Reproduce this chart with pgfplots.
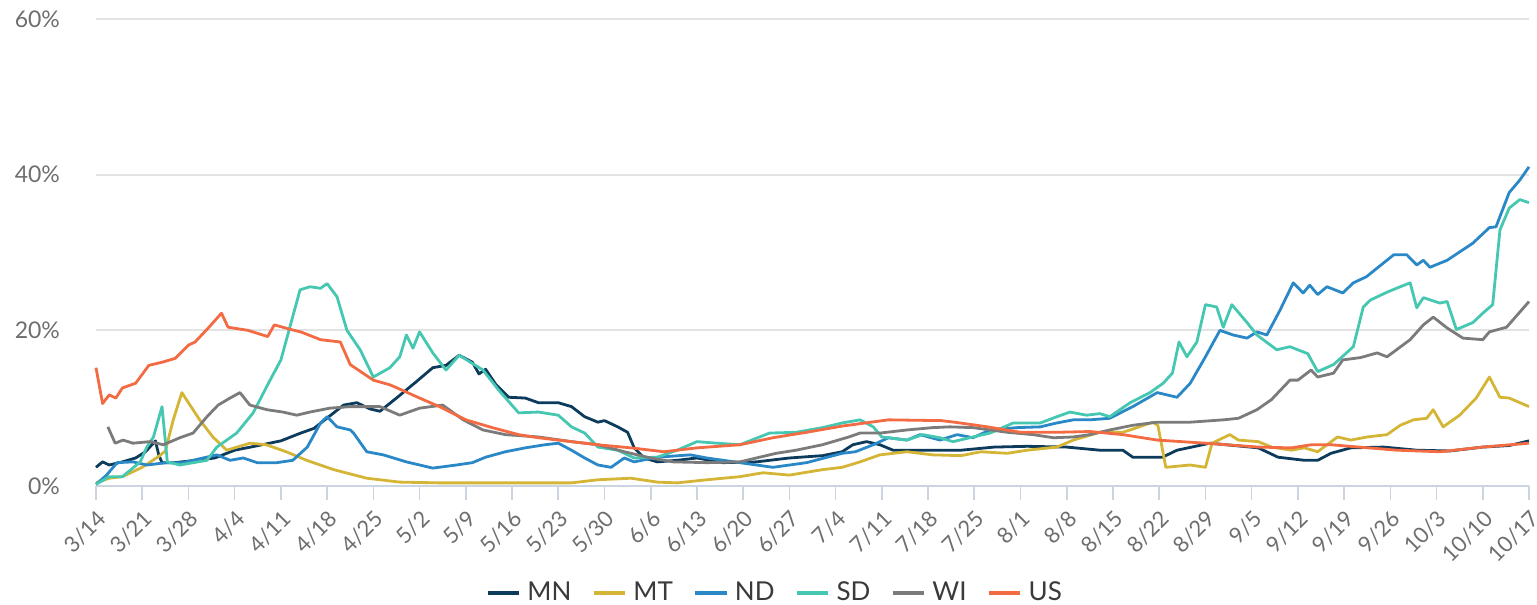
\documentclass[border=0pt]{standalone}
\usepackage{fontspec}
\setmainfont{Lato}
\usepackage{pgfplots}
\pgfplotsset{compat=1.18}
\usetikzlibrary{calc}
\definecolor{cMN}{HTML}{0D3B5C}
\definecolor{cMT}{HTML}{D5B536}
\definecolor{cND}{HTML}{2A88C7}
\definecolor{cSD}{HTML}{45C7B2}
\definecolor{cWI}{HTML}{7B7B7B}
\definecolor{cUS}{HTML}{F26B43}
\definecolor{gridgray}{HTML}{E3E3E3}
\definecolor{axisblue}{HTML}{CBD5E1}
\definecolor{labelgray}{HTML}{6E6E6E}
\definecolor{legendtext}{HTML}{3A3A3A}
\begin{document}
\fontsize{11.5bp}{13.8bp}\selectfont
\begin{tikzpicture}
\begin{axis}[
  scale only axis, width=716.5bp, height=233.5bp,
  xmin=0, xmax=217, ymin=0, ymax=60,
  clip=false, no markers,
  axis x line*=bottom, axis y line*=left,
  y axis line style={draw=none},
  x axis line style={color=axisblue, line width=1bp},
  ytick={0,20,40,60}, yticklabels={0\%,20\%,40\%,60\%},
  ytick style={draw=none},
  yticklabel style={text=labelgray, font=\fontsize{11.5bp}{13.8bp}\selectfont, xshift=-7bp},
  xtick={0,7,...,217},
  xticklabels={3/14,3/21,3/28,4/4,4/11,4/18,4/25,5/2,5/9,5/16,5/23,5/30,6/6,6/13,6/20,6/27,7/4,7/11,7/18,7/25,8/1,8/8,8/15,8/22,8/29,9/5,9/12,9/19,9/26,10/3,10/10,10/17},
  xtick style={color=axisblue, line width=0.8bp},
  major tick length=7bp, tick align=outside,
  xticklabel shift={3bp},
  xticklabel style={text=labelgray, font=\fontsize{11bp}{13bp}\selectfont, rotate=45, anchor=north east, inner sep=1bp},
  ymajorgrids, grid style={color=gridgray, line width=1bp},
  every axis plot/.append style={line width=1.4bp, line join=round},
  legend columns=-1,
  legend style={at={(0.475,-0.229)}, anchor=center, draw=none, fill=none,
    font=\fontsize{13bp}{15bp}\selectfont, text=legendtext,
    nodes={inner xsep=3bp},
    /tikz/every even column/.append style={column sep=7bp}},
  legend image code/.code={\draw[line width=2.4bp] (0bp,0bp) -- (15.6bp,0bp);},
]
\coordinate (pa) at (rel axis cs:0,0);
\coordinate (pb) at (rel axis cs:1,1);

% MN
\addplot[cMN] coordinates {(0,2.4)(1,3.1)(2,2.7)(4,3.1)(6,3.6)(7.5,4.4)(9,5.8)(9.5,4.0)(10,3.0)(12,3.0)(15,3.3)(18,3.6)(21,4.6)(24,5.1)(28,5.8)(31,6.8)(33,7.4)(36,9.4)(37.5,10.4)(39.5,10.7)(41.5,9.9)(43,9.6)(45.5,11.3)(48.5,13.4)(51,15.2)(53,15.5)(55,16.8)(57,15.9)(58,14.4)(59,15.0)(60.5,13.1)(62.5,11.4)(65,11.3)(67,10.7)(70,10.7)(72,10.2)(74,8.9)(76,8.2)(77,8.4)(79,7.6)(80.5,6.9)(81.5,4.9)(83,3.6)(85,3.1)(88,3.3)(91,3.6)(95,3.0)(100,3.1)(105,3.6)(110,3.9)(113,4.4)(114.6,5.3)(116.7,5.7)(118.7,5.3)(120.7,4.6)(126.7,4.6)(131,4.6)(136,5.0)(141,5.1)(147,5.0)(152,4.6)(155.5,4.6)(157,3.7)(161.5,3.7)(163.7,4.6)(168.7,5.5)(176,4.9)(179,3.7)(183,3.3)(185,3.3)(187,4.2)(190,4.9)(195,5.0)(200,4.6)(205,4.5)(210,5.0)(214,5.2)(217,5.8)};
% MT
\addplot[cMT] coordinates {(0,0.4)(2,1.0)(4,1.2)(7,2.4)(9.5,3.8)(10.5,4.5)(11.7,8.5)(13,12.0)(15.7,8.5)(17.7,6.3)(19.8,4.6)(23.3,5.5)(25.8,5.3)(28.8,4.4)(31.9,3.3)(36,2.1)(41,1.0)(46,0.5)(52,0.4)(62,0.4)(72,0.4)(76,0.8)(81,1.0)(85,0.5)(88,0.4)(92.5,0.8)(97.5,1.2)(101,1.7)(105,1.4)(110,2.1)(113,2.4)(115.7,3.1)(118.7,4.0)(122.8,4.4)(126.7,4.0)(131,3.9)(134,4.4)(138,4.2)(141,4.6)(145.5,5.0)(148,5.9)(152,6.9)(155.5,6.9)(158,7.6)(160,8.2)(160.8,7.8)(162,2.4)(165.7,2.7)(168,2.4)(169,5.5)(171.7,6.6)(173,5.9)(176,5.7)(178,5.0)(181,4.6)(183,4.9)(185,4.4)(188,6.3)(190,5.9)(192.5,6.3)(195.5,6.6)(197.5,7.8)(199.5,8.5)(201.5,8.7)(202.5,9.8)(204,7.6)(206.5,9.1)(209,11.3)(211,14.0)(212.6,11.4)(214,11.3)(217,10.2)};
% ND
\addplot[cND] coordinates {(0,0.2)(1.6,1.4)(3.2,3.0)(5.6,3.1)(7.7,2.7)(10.7,3.0)(13.2,3.0)(16.2,3.6)(18.3,4.0)(20.3,3.3)(22.3,3.6)(24.4,3.0)(27.4,3.0)(29.8,3.3)(32,5.0)(34,8.1)(35,8.9)(36.5,7.6)(38.5,7.2)(39,6.8)(41,4.4)(43.5,4.0)(47,3.1)(51,2.3)(54.6,2.7)(57,3.0)(59,3.7)(62,4.4)(65,4.9)(68,5.3)(70,5.5)(72,4.6)(74,3.6)(76,2.7)(78,2.4)(80,3.6)(81.5,3.1)(85,3.7)(90,4.0)(92.5,3.6)(97.5,3.0)(102.5,2.4)(107.6,3.0)(113,4.2)(115,4.4)(117.7,5.3)(120,6.2)(122.8,5.9)(124.8,6.6)(127.8,5.9)(130.4,6.6)(132.8,6.2)(135.4,7.2)(139.5,7.5)(143,7.6)(145.5,8.1)(148,8.5)(150.5,8.5)(153.5,8.7)(157,10.2)(160.7,12.0)(163.7,11.4)(165.7,13.2)(168,16.6)(170.2,20.0)(172.2,19.4)(174.3,19.0)(175.8,19.8)(177.3,19.4)(179.3,22.6)(181.3,26.1)(182.8,24.8)(183.8,25.8)(185,24.6)(186.4,25.6)(188.8,24.8)(190.4,26.1)(192.4,26.9)(196.5,29.7)(198.5,29.7)(200,28.4)(201,29.0)(202,28.1)(204.6,29.0)(208.5,31.2)(211,33.2)(212,33.3)(214,37.7)(215.6,39.3)(217,41.0)};
% SD
\addplot[cSD] coordinates {(0,0.2)(2,1.2)(4,1.2)(6.7,3.1)(7.7,5.0)(8.7,6.3)(10,10.2)(10.8,3.1)(12.7,2.7)(16.8,3.3)(18.3,5.0)(21.3,6.8)(23.8,9.4)(26.3,13.5)(28,16.2)(30.9,25.2)(32.4,25.6)(34,25.4)(35,26.0)(36.5,24.3)(38,20.0)(40,17.5)(42,14.0)(44.5,15.2)(46,16.6)(47,19.4)(48,17.7)(49,19.8)(51,17.1)(53,14.9)(55,16.8)(58.6,14.9)(61,12.3)(64,9.4)(67,9.5)(70,9.1)(72,7.6)(74,6.8)(76,5.0)(79,4.6)(81.5,3.6)(85,3.7)(88,4.6)(91,5.7)(94,5.5)(97.5,5.3)(102,6.8)(106,6.9)(110,7.5)(113,8.1)(115.7,8.5)(117.7,7.6)(119,6.3)(122.8,5.9)(125.2,6.6)(127.8,6.2)(129.8,5.7)(132.8,6.3)(135.4,6.8)(138.9,8.1)(143,8.1)(145.5,8.9)(147.5,9.5)(150,9.1)(152,9.3)(153.5,8.9)(156.6,10.7)(159.6,12.0)(161.6,13.2)(163,14.5)(164,18.5)(165.2,16.6)(166.7,18.5)(168,23.3)(169.7,23.0)(170.7,20.4)(172,23.3)(174.3,21.0)(175.8,19.4)(178.8,17.5)(180.8,17.9)(183.5,17.0)(185,14.7)(187.4,15.6)(190.4,17.9)(191.9,23.0)(193,23.9)(195.5,24.9)(197.5,25.6)(199,26.1)(200,22.9)(201,24.2)(203.5,23.5)(204.6,23.7)(206,20.1)(208.5,21.0)(210,22.2)(211.5,23.3)(212.6,32.9)(214,35.7)(215.6,36.8)(217,36.4)};
% WI
\addplot[cWI] coordinates {(1.8,7.6)(2.9,5.5)(4.1,5.9)(5.6,5.5)(8.2,5.7)(10.2,5.3)(12.7,6.2)(14.7,6.8)(16.8,8.9)(18.5,10.4)(20.3,11.3)(21.8,12.0)(23.3,10.4)(25.9,9.8)(28.3,9.5)(30.4,9.1)(32.4,9.5)(35.4,10.0)(38.5,10.2)(40,10.2)(43,10.2)(46,9.1)(49,10.0)(52.5,10.4)(55.6,8.5)(58.6,7.2)(62,6.6)(67,6.3)(72,5.7)(76,5.3)(80,4.4)(84,3.6)(87.4,3.1)(92.5,3.0)(97.5,3.1)(100,3.6)(103,4.2)(106,4.6)(110,5.3)(114,6.3)(115.7,6.8)(118.7,6.8)(122.8,7.2)(126.7,7.5)(129.3,7.6)(132.8,7.5)(138,6.9)(141.9,6.6)(145,6.2)(148,6.3)(150.5,6.6)(153.5,7.2)(157,7.8)(160.7,8.2)(165.7,8.2)(170.7,8.5)(173,8.7)(175.8,9.8)(178,11.1)(180.8,13.6)(182,13.6)(184,14.9)(185,14.0)(187.4,14.5)(188.8,16.2)(191.5,16.5)(194,17.1)(195.5,16.6)(199,18.8)(201,20.7)(202.5,21.7)(204.6,20.3)(207,19.0)(210,18.8)(211,19.8)(213.6,20.4)(217,23.7)};
% US
\addplot[cUS] coordinates {(0,15.2)(1,10.6)(2,11.7)(3,11.3)(4,12.6)(6,13.2)(8,15.5)(10,15.9)(12,16.4)(14,18.1)(15,18.5)(17,20.3)(19,22.2)(20,20.4)(23,20.0)(26,19.2)(27,20.7)(30,20.0)(31,19.8)(34,18.8)(37,18.5)(38.5,15.6)(42,13.6)(44.5,13.0)(45.6,12.6)(49,11.3)(52,10.2)(56,8.5)(60,7.5)(64,6.6)(67,6.2)(72,5.7)(76,5.3)(81,4.9)(86,4.4)(91,4.9)(97.5,5.3)(102.5,6.2)(107.6,6.9)(113,7.7)(120,8.5)(128,8.4)(130,8.2)(135,7.6)(140,6.9)(145.5,6.9)(150.5,7.0)(155.5,6.6)(160.7,5.9)(168,5.5)(176,5.0)(181,4.9)(184,5.3)(187,5.3)(197,4.6)(203.5,4.4)(210,5.0)(217,5.5)};
\legend{MN,MT,ND,SD,WI,US}
\end{axis}
\pgfresetboundingbox
\path ($(pa)+(-48bp,-59.5bp)$) rectangle ($(pb)+(4bp,9.5bp)$);
\end{tikzpicture}
\end{document}
